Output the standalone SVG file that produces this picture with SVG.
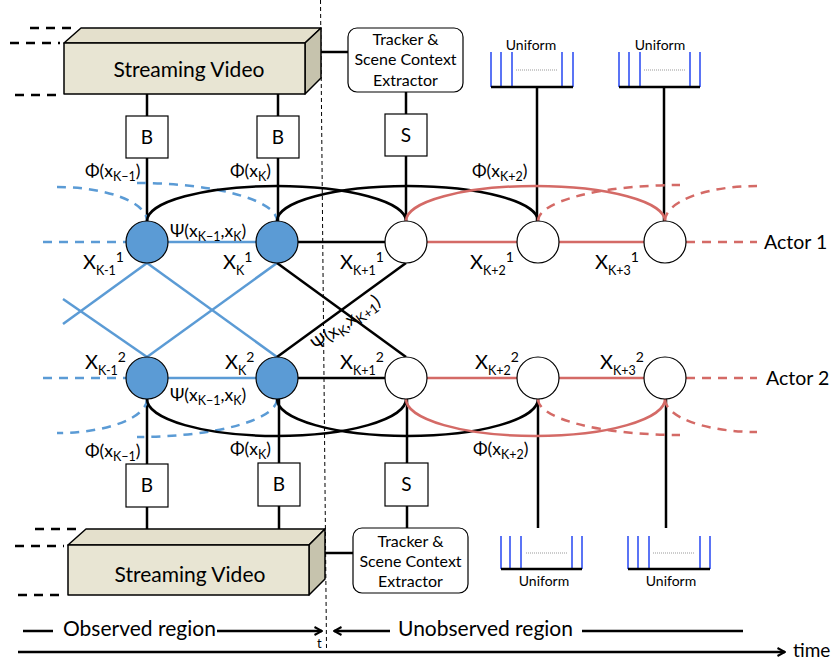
<svg xmlns="http://www.w3.org/2000/svg" width="837" height="666" viewBox="0 0 837 666">
<defs>
<style>
text{font-family:Lato,"Liberation Sans",sans-serif;fill:#000}
.k{stroke:#000;stroke-width:2.5;fill:none}
.kd{stroke:#000;stroke-width:2.5;fill:none;stroke-dasharray:9 7}
.b{stroke:#5b9bd5;stroke-width:2.5;fill:none}
.bd{stroke:#5b9bd5;stroke-width:2.5;fill:none;stroke-dasharray:9 7}
.r{stroke:#d46a66;stroke-width:2.5;fill:none}
.rd{stroke:#d46a66;stroke-width:2.5;fill:none;stroke-dasharray:9 7}
.nb{fill:#5b9bd5;stroke:#000;stroke-width:1.2}
.nw{fill:#fff;stroke:#000;stroke-width:1.2}
.box{fill:#fff;stroke:#000;stroke-width:1.2}
.front{fill:#e8e5d3;stroke:#000;stroke-width:1.5;stroke-linejoin:round}
.topf{fill:#e4e0cc;stroke:#000;stroke-width:1.5;stroke-linejoin:round}
.side{fill:#c6c3ad;stroke:#000;stroke-width:1.5;stroke-linejoin:round}
.ub{stroke:#2446f2;stroke-width:1.5}
.ubase{stroke:#000;stroke-width:2.5}
.ud{stroke:#999;stroke-width:1;stroke-dasharray:1 1}
.vd{stroke:#000;stroke-width:1;stroke-dasharray:4 3;fill:none}
.f{font-size:17.5px}
.s2{font-size:12.5px}
.fr{font-size:18px}
.s3{font-size:13.5px}
.x{font-size:20px}
.xs{font-size:12.5px}
.xp{font-size:14px}
.bl{font-size:19px;text-anchor:middle}
.tr{font-size:16px;text-anchor:middle}
.un{font-size:14px;text-anchor:middle}
.sv{font-size:21px;text-anchor:middle}
.act{font-size:19.5px}
.reg{font-size:21px}
</style>
<marker id="ah" viewBox="0 0 10 10" refX="9" refY="5" markerWidth="10" markerHeight="10" markerUnits="userSpaceOnUse" orient="auto">
<path d="M1.5,1 L9,5 L1.5,9" fill="none" stroke="#000" stroke-width="2"/>
</marker>
</defs>
<rect width="837" height="666" fill="#fff"/>

<!-- observation divider -->
<line class="vd" x1="320.5" y1="0" x2="326.5" y2="648"/>

<!-- streaming video boxes -->
<g id="video-top">
<line class="kd" x1="30" y1="28" x2="78" y2="28"/>
<line class="kd" x1="10" y1="43" x2="60" y2="43"/>
<line class="kd" x1="15" y1="95" x2="60" y2="95"/>
<polygon class="topf" points="64,43 81,28 321,28 305,43"/>
<polygon class="side" points="305,43 321,28 321,78 305,94"/>
<rect class="front" x="64" y="43" width="241" height="51"/>
<text class="sv" x="189" y="77">Streaming Video</text>
</g>
<g id="video-bottom">
<line class="kd" x1="35" y1="529" x2="83" y2="529"/>
<line class="kd" x1="15" y1="546" x2="64" y2="546"/>
<line class="kd" x1="18" y1="595" x2="65" y2="595"/>
<polygon class="topf" points="68,545 86,529 325,529 309,545"/>
<polygon class="side" points="309,545 325,529 325,579 309,595"/>
<rect class="front" x="68" y="545" width="241" height="50"/>
<text class="sv" x="190" y="582">Streaming Video</text>
</g>

<!-- connectors -->
<g id="connectors">
<line class="k" x1="321" y1="52" x2="348" y2="52"/>
<line class="k" x1="325" y1="553" x2="353" y2="553"/>
<line class="k" x1="147" y1="94" x2="147" y2="221"/>
<line class="k" x1="278" y1="94" x2="278" y2="221"/>
<line class="k" x1="406" y1="92" x2="406" y2="221"/>
<line class="k" x1="537" y1="87" x2="537" y2="221"/>
<line class="k" x1="664" y1="87" x2="664" y2="221"/>
<line class="k" x1="147" y1="399" x2="147" y2="529"/>
<line class="k" x1="279" y1="399" x2="279" y2="529"/>
<line class="k" x1="407" y1="399" x2="407" y2="528"/>
<line class="k" x1="538" y1="399" x2="538" y2="528"/>
<line class="k" x1="666" y1="399" x2="666" y2="528"/>

<path class="bd" d="M57,187 A90,34 0 0,1 147,221"/>
<path class="bd" d="M137,183 A140,38 0 0,1 277,221"/>
<path class="k" d="M147,221 A129.5,35 0 0,1 406,221"/>
<path class="k" d="M277,221 A130.5,35 0 0,1 538,221"/>
<path class="r" d="M406,221 A129.5,35 0 0,1 665,221"/>
<path class="rd" d="M538,221 A142,36 0 0,1 680,185"/>
<path class="rd" d="M665,221 A92,35 0 0,1 757,186"/>
<path class="bd" d="M147,399 A90,34 0 0,1 57,433"/>
<path class="bd" d="M277,399 A140,38 0 0,1 137,437"/>
<path class="k" d="M147,399 A129.5,37 0 0,0 406,399"/>
<path class="k" d="M277,399 A130.5,37 0 0,0 538,399"/>
<path class="r" d="M406,399 A129.5,37 0 0,0 665,399"/>
<path class="rd" d="M538,399 A142,36 0 0,0 680,435"/>
<path class="rd" d="M665,399 A92,33 0 0,0 757,432"/>

<line class="bd" x1="43" y1="242" x2="126" y2="242"/>
<line class="b" x1="168" y1="242" x2="256" y2="242"/>
<line class="k" x1="298" y1="242" x2="385" y2="242"/>
<line class="r" x1="427" y1="242" x2="517" y2="242"/>
<line class="r" x1="559" y1="242" x2="644" y2="242"/>
<line class="rd" x1="686" y1="242" x2="757" y2="242"/>
<line class="bd" x1="43" y1="378" x2="126" y2="378"/>
<line class="b" x1="168" y1="378" x2="256" y2="378"/>
<line class="k" x1="298" y1="378" x2="385" y2="378"/>
<line class="r" x1="427" y1="378" x2="517" y2="378"/>
<line class="r" x1="559" y1="378" x2="644" y2="378"/>
<line class="rd" x1="686" y1="378" x2="757" y2="378"/>

<line class="b" x1="147" y1="263" x2="63" y2="324"/>
<line class="b" x1="147" y1="357" x2="63" y2="299"/>
<line class="b" x1="147" y1="263" x2="277" y2="357"/>
<line class="b" x1="147" y1="357" x2="277" y2="263"/>
<line class="k" x1="277" y1="263" x2="406" y2="357"/>
<line class="k" x1="277" y1="357" x2="406" y2="263"/>

<line class="k" x1="23" y1="631" x2="53" y2="631"/>
<line class="k" x1="217" y1="631" x2="322" y2="631" marker-end="url(#ah)"/>
<line class="k" x1="390" y1="631" x2="334" y2="631" marker-end="url(#ah)"/>
<line class="k" x1="582" y1="631" x2="743" y2="631"/>
<line class="k" x1="18" y1="652" x2="785" y2="652" marker-end="url(#ah)"/>
</g>

<g id="tracker-top">
<rect class="box" x="348" y="28" width="115" height="64" rx="9"/>
<text class="tr" x="405.5" y="45">Tracker &amp;</text>
<text class="tr" x="405.5" y="65">Scene Context</text>
<text class="tr" x="405.5" y="86">Extractor</text>
</g>
<g id="tracker-bottom">
<rect class="box" x="353" y="528" width="115" height="65" rx="9"/>
<text class="tr" x="410.5" y="547">Tracker &amp;</text>
<text class="tr" x="410.5" y="567">Scene Context</text>
<text class="tr" x="410.5" y="587">Extractor</text>
</g>

<g id="uniform-top-1">
<text class="un" x="531" y="50">Uniform</text>
<line class="ub" x1="491" y1="52" x2="491" y2="87"/>
<line class="ub" x1="501" y1="52" x2="501" y2="87"/>
<line class="ub" x1="512" y1="52" x2="512" y2="87"/>
<line class="ub" x1="562" y1="52" x2="562" y2="87"/>
<line class="ub" x1="573" y1="52" x2="573" y2="87"/>
<line class="ud" x1="516" y1="70" x2="557" y2="70"/>
<line class="ubase" x1="491" y1="87" x2="573" y2="87"/>
</g>
<g id="uniform-top-2">
<text class="un" x="660" y="50">Uniform</text>
<line class="ub" x1="619" y1="52" x2="619" y2="87"/>
<line class="ub" x1="629" y1="52" x2="629" y2="87"/>
<line class="ub" x1="640" y1="52" x2="640" y2="87"/>
<line class="ub" x1="690" y1="52" x2="690" y2="87"/>
<line class="ub" x1="700" y1="52" x2="700" y2="87"/>
<line class="ud" x1="644" y1="70" x2="685" y2="70"/>
<line class="ubase" x1="619" y1="87" x2="700" y2="87"/>
</g>
<g id="uniform-bottom-1">
<text class="un" x="544" y="586">Uniform</text>
<line class="ub" x1="501" y1="536" x2="501" y2="569"/>
<line class="ub" x1="510" y1="536" x2="510" y2="569"/>
<line class="ub" x1="521" y1="536" x2="521" y2="569"/>
<line class="ub" x1="572" y1="536" x2="572" y2="569"/>
<line class="ub" x1="582" y1="536" x2="582" y2="569"/>
<line class="ud" x1="526" y1="553" x2="567" y2="553"/>
<line class="ubase" x1="501" y1="569" x2="582" y2="569"/>
</g>
<g id="uniform-bottom-2">
<text class="un" x="671" y="586">Uniform</text>
<line class="ub" x1="628" y1="536" x2="628" y2="569"/>
<line class="ub" x1="638" y1="536" x2="638" y2="569"/>
<line class="ub" x1="649" y1="536" x2="649" y2="569"/>
<line class="ub" x1="700" y1="536" x2="700" y2="569"/>
<line class="ub" x1="710" y1="536" x2="710" y2="569"/>
<line class="ud" x1="653" y1="553" x2="694" y2="553"/>
<line class="ubase" x1="628" y1="569" x2="710" y2="569"/>
</g>

<g id="B-top-1"><rect class="box" x="126" y="116" width="42" height="42"/><text class="bl" x="147" y="144">B</text></g>
<g id="B-top-2"><rect class="box" x="257" y="116" width="42" height="42"/><text class="bl" x="278" y="144">B</text></g>
<g id="S-top"><rect class="box" x="385" y="114" width="42" height="42"/><text class="bl" x="406" y="142">S</text></g>
<g id="B-bottom-1"><rect class="box" x="126" y="464" width="42" height="43"/><text class="bl" x="147" y="492">B</text></g>
<g id="B-bottom-2"><rect class="box" x="258" y="463" width="42" height="43"/><text class="bl" x="279" y="491">B</text></g>
<g id="S-bottom"><rect class="box" x="385" y="463" width="43" height="43"/><text class="bl" x="406.5" y="491">S</text></g>

<g id="a1-k-1"><circle class="nb" cx="147" cy="242" r="21"/></g>
<g id="a1-k"><circle class="nb" cx="277" cy="242" r="21"/></g>
<g id="a1-k1"><circle class="nw" cx="406" cy="242" r="21"/></g>
<g id="a1-k2"><circle class="nw" cx="538" cy="242" r="21"/></g>
<g id="a1-k3"><circle class="nw" cx="665" cy="242" r="21"/></g>
<g id="a2-k-1"><circle class="nb" cx="147" cy="378" r="21"/></g>
<g id="a2-k"><circle class="nb" cx="277" cy="378" r="21"/></g>
<g id="a2-k1"><circle class="nw" cx="406" cy="378" r="21"/></g>
<g id="a2-k2"><circle class="nw" cx="538" cy="378" r="21"/></g>
<g id="a2-k3"><circle class="nw" cx="665" cy="378" r="21"/></g>

<g id="labels">
<text class="f" x="85" y="177">Φ(x<tspan class="s2" dy="4">K−1</tspan><tspan dy="-4">)</tspan></text>
<text class="f" x="230" y="177">Φ(x<tspan class="s2" dy="4">K</tspan><tspan dy="-4">)</tspan></text>
<text class="f" x="472" y="177">Φ(x<tspan class="s2" dy="4">K+2</tspan><tspan dy="-4">)</tspan></text>
<text class="f" x="85" y="457">Φ(x<tspan class="s2" dy="4">K−1</tspan><tspan dy="-4">)</tspan></text>
<text class="f" x="230" y="455">Φ(x<tspan class="s2" dy="4">K</tspan><tspan dy="-4">)</tspan></text>
<text class="f" x="473" y="455">Φ(x<tspan class="s2" dy="4">K+2</tspan><tspan dy="-4">)</tspan></text>
<text class="f" x="170" y="237">Ψ(x<tspan class="s2" dy="4">K−1</tspan><tspan dy="-4">,x</tspan><tspan class="s2" dy="4">K</tspan><tspan dy="-4">)</tspan></text>
<text class="f" x="170" y="401">Ψ(x<tspan class="s2" dy="4">K−1</tspan><tspan dy="-4">,x</tspan><tspan class="s2" dy="4">K</tspan><tspan dy="-4">)</tspan></text>
<text class="fr" transform="translate(317,351) rotate(-36)">Ψ(x<tspan class="s3" dy="4">K</tspan><tspan dy="-4">,x</tspan><tspan class="s3" dy="4">K+1</tspan><tspan dy="-4">)</tspan></text>

<text class="x" x="83" y="269">X<tspan class="xs" dy="6">K-1</tspan><tspan class="xp" dy="-13">1</tspan></text>
<text class="x" x="223" y="269">X<tspan class="xs" dy="6">K</tspan><tspan class="xp" dy="-13">1</tspan></text>
<text class="x" x="340" y="269">X<tspan class="xs" dy="6">K+1</tspan><tspan class="xp" dy="-13">1</tspan></text>
<text class="x" x="470" y="269">X<tspan class="xs" dy="6">K+2</tspan><tspan class="xp" dy="-13">1</tspan></text>
<text class="x" x="595" y="269">X<tspan class="xs" dy="6">K+3</tspan><tspan class="xp" dy="-13">1</tspan></text>
<text class="x" x="85" y="369">X<tspan class="xs" dy="6">K-1</tspan><tspan class="xp" dy="-13">2</tspan></text>
<text class="x" x="225" y="369">X<tspan class="xs" dy="6">K</tspan><tspan class="xp" dy="-13">2</tspan></text>
<text class="x" x="340" y="369">X<tspan class="xs" dy="6">K+1</tspan><tspan class="xp" dy="-13">2</tspan></text>
<text class="x" x="475" y="369">X<tspan class="xs" dy="6">K+2</tspan><tspan class="xp" dy="-13">2</tspan></text>
<text class="x" x="600" y="369">X<tspan class="xs" dy="6">K+3</tspan><tspan class="xp" dy="-13">2</tspan></text>

<text class="act" x="764" y="249">Actor 1</text>
<text class="act" x="766" y="385">Actor 2</text>

<text class="reg" x="63" y="636">Observed region</text>
<text class="reg" x="398" y="636">Unobserved region</text>
<text x="317" y="648" font-size="13">t</text>
<text x="793" y="657" font-size="19">time</text>
</g>
</svg>
